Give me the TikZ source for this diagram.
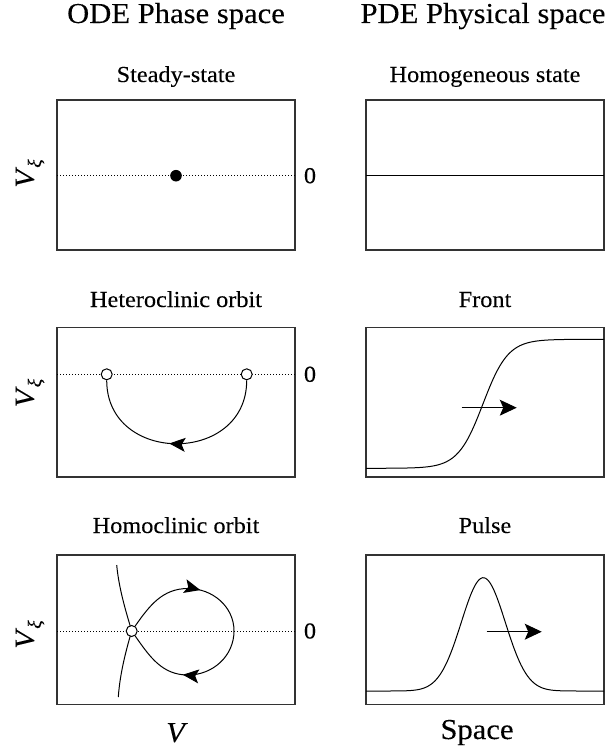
\documentclass[tikz,border=0pt]{standalone}
\usepackage{fontspec}
\setmainfont{Liberation Serif}[FakeStretch=1.06, FakeBold=0.15]
\usepackage{graphicx}
\usetikzlibrary{arrows.meta, decorations.markings}
\newcommand{\vxi}{\textit{V}\kern-1bp\raisebox{-7bp}{\fontsize{19}{19}\selectfont\textit{ξ}}}

\begin{document}
\begin{tikzpicture}[x=1bp, y=1bp,
    caixa/.style={draw=black!80, line width=1.1bp},
    curva/.style={line width=1bp},
    pontilhado/.style={line width=1bp, dash pattern=on 1.4bp off 1.6bp},
    titulo/.style={font=\fontsize{29}{34}\selectfont, anchor=base},
    legenda/.style={font=\fontsize{23}{27}\selectfont, anchor=base},
    eixo/.style={font=\fontsize{28}{32}\selectfont, rotate=90},
    zero/.style={font=\fontsize{23}{27}\selectfont},
    aberto/.style={circle, draw, fill=white, inner sep=0pt, minimum size=11bp, line width=1bp},
    seta/.style={-{Stealth[length=17pt, width=16pt, inset=3.5pt]}},
    marca/.style={postaction={decorate, decoration={markings,
        mark=at position #1 with {\arrow{Stealth[length=16pt, width=14pt, inset=3.5pt]}}}}}]

    \useasboundingbox (0,0) rectangle (612,-752);

    % Titulos das colunas
    \node[titulo] (ode) at (176,-23) {ODE Phase space};
    \node[titulo] (pde) at (483,-23) {PDE Physical space};

    % Linha 1: estado estacionario
    \node[legenda] (steady) at (176,-82) {Steady-state};
    \node[legenda] (homog) at (485,-82) {Homogeneous state};
    \draw[caixa] (57,-100) rectangle (295,-250);
    \draw[caixa] (366,-100) rectangle (604,-250);
    \draw[pontilhado] (57,-175.7) -- (295,-175.7);
    \fill (176,-175.7) circle (5.8);
    \draw[curva] (366,-175.7) -- (604,-175.7);
    \node[eixo] (vxi1) at (30,-173.5) {\vxi};
    \node[zero] (zero1) at (310,-175.7) {0};

    % Linha 2: orbita heteroclinica / frente
    \node[legenda] (hetero) at (176,-307) {Heteroclinic orbit};
    \node[legenda] (front) at (485,-307) {Front};
    \draw[caixa] (57,-327.5) rectangle (295,-477);
    \draw[caixa] (366,-327.5) rectangle (604,-477);
    \draw[pontilhado] (57,-374.3) -- (295,-374.3);
    \node[aberto] (eqA) at (106.7,-374.3) {};
    \node[aberto] (eqB) at (246.7,-374.3) {};
    \draw[curva, marca=0.535] (eqB) to[out=-90, in=-90, looseness=1.55] (eqA);
    \draw[curva] plot[domain=366:604, samples=120] (\x, {-403.8+64.5*tanh((\x-483)/25)});
    \draw[curva, seta] (461.7,-407.7) -- (516.7,-407.7);
    \node[eixo] (vxi2) at (30,-393) {\vxi};
    \node[zero] (zero2) at (310,-374.3) {0};

    % Linha 3: orbita homoclinica / pulso
    \node[legenda] (homo) at (176,-533) {Homoclinic orbit};
    \node[legenda] (pulse) at (485,-533) {Pulse};
    \draw[caixa] (57,-555) rectangle (295,-704.5);
    \draw[caixa] (366,-555) rectangle (604,-704.5);
    \draw[pontilhado] (57,-631) -- (295,-631);
    \draw[curva] (116.7,-565) .. controls (119,-590) and (127,-615) .. (131.7,-631)
        .. controls (127,-647) and (120,-672) .. (118.3,-697);
    \node[aberto] (sela) at (131.7,-631) {};
    \draw[curva, marca=0.29, marca=0.77] (sela) to[out=55, in=180] (188,-588.5)
        to[out=0, in=90] (234,-631) to[out=-90, in=0] (188,-675) to[out=180, in=-55] (sela);
    \draw[curva] plot[domain=366:604, samples=150] (\x, {-691+113.3*exp(-((\x-483.3)/22)^2/2)});
    \draw[curva, seta] (486.7,-631.7) -- (541.7,-631.7);
    \node[eixo] (vxi3) at (30,-634.5) {\vxi};
    \node[zero] (zero3) at (310,-631) {0};

    % Eixos horizontais
    \node[font=\fontsize{29}{33}\selectfont, anchor=base] (eixoV) at (177,-742) {\textit{V}};
    \node[titulo] (espaco) at (477,-739) {Space};
\end{tikzpicture}
\end{document}
